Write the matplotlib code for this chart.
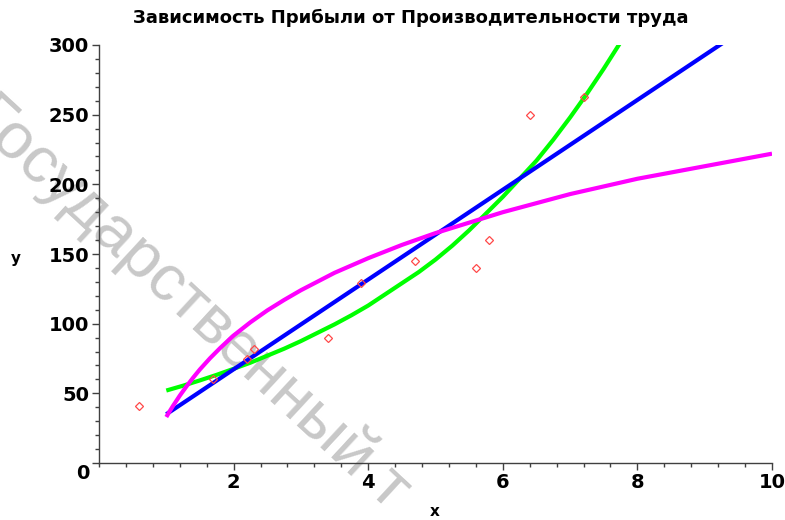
import matplotlib
matplotlib.use("Agg")
import matplotlib.pyplot as plt
from matplotlib.ticker import MultipleLocator
from matplotlib.transforms import offset_copy

# Data
pts_x = [0.6, 1.7, 2.2, 2.3, 3.4, 3.9, 4.7, 5.6, 5.8, 6.4, 7.2]
pts_y = [41, 60, 75, 82, 90, 129, 145, 140, 160, 250, 263]

lin_x = [1.0, 10.0]
lin_y = [35, 325]

exp_x = [1.0, 1.25, 1.5, 1.75, 2.0, 2.25, 2.5, 2.75, 3.0, 3.25, 3.5, 3.75, 4.0, 4.25,
         4.5, 4.75, 5.0, 5.25, 5.5, 5.75, 6.0, 6.25, 6.5, 6.75, 7.0, 7.25, 7.5, 7.75]
exp_y = [52, 55.5, 59.3, 63.3, 67.6, 72, 77, 82, 87.5, 93.5, 99.5, 106, 113, 121,
         129, 137, 146, 156, 167, 179, 191, 204, 217, 232, 248, 265, 283, 302]

log_x = [1.0, 1.05, 1.1, 1.2, 1.3, 1.4, 1.5, 1.65, 1.8, 2.0, 2.25, 2.5, 2.75, 3.0,
         3.5, 4.0, 4.5, 5.0, 6.0, 7.0, 8.0, 9.0, 10.0]
log_y = [33, 37.1, 41, 48.3, 55, 61.3, 67.2, 75.2, 82.5, 91.5, 101, 109.5, 117, 124,
         136.5, 147, 156.5, 165, 180, 193, 204, 213, 222]

x_ticks = [2, 4, 6, 8, 10]
y_ticks = [0, 50, 100, 150, 200, 250, 300]

title = "Зависимость Прибыли от Производительности труда"
watermark = "Государственный т"

fig = plt.figure(figsize=(7.85, 5.2), dpi=100)
fig.patch.set_facecolor("white")
ax = fig.add_axes([99 / 785, 57 / 520, 673 / 785, 418 / 520])
ax.set_facecolor("none")
ax.set_zorder(1)

fig.text(190 / 785, 1 - 302 / 520, watermark, rotation=-42.8, rotation_mode="anchor",
         ha="center", va="center", fontsize=47, color="#c8c8c8",
         family="Liberation Sans", zorder=0)

ax.plot(exp_x, exp_y, color="#00ff00", lw=3.0, zorder=3, solid_capstyle="butt")
ax.plot(lin_x, lin_y, color="#0000ff", lw=3.0, zorder=3, solid_capstyle="butt")
ax.plot(log_x, log_y, color="#ff00ff", lw=3.0, zorder=3, solid_capstyle="butt")
ax.plot(pts_x, pts_y, linestyle="none", marker="D", markersize=4,
        markerfacecolor="none", markeredgecolor="#ff4848", markeredgewidth=0.9, zorder=5)

ax.set_xlim(0, 10)
ax.set_ylim(0, 300)
ax.set_xticks(x_ticks)
ax.set_yticks(y_ticks)
ax.xaxis.set_minor_locator(MultipleLocator(0.4))
ax.yaxis.set_minor_locator(MultipleLocator(10))

for s in ["top", "right"]:
    ax.spines[s].set_visible(False)
for s in ["left", "bottom"]:
    ax.spines[s].set_color("#404040")
    ax.spines[s].set_linewidth(1.0)

ax.tick_params(axis="both", which="major", direction="out", length=5, width=1,
               color="#404040", labelsize=14, pad=2)
ax.tick_params(axis="both", which="minor", direction="out", length=3, width=1,
               color="#404040")
for lab in ax.get_xticklabels() + ax.get_yticklabels():
    lab.set_fontweight("bold")
    lab.set_family("DejaVu Sans")

# the origin label sits a little below the axis line
ylab0 = ax.get_yticklabels()[0]
ylab0.set_transform(offset_copy(ylab0.get_transform(), fig=fig, x=0, y=-6, units="points"))

fig.text(411 / 785, 1 - 18 / 520, title, ha="center", va="center",
         fontsize=13, fontweight="bold", family="DejaVu Sans")
fig.text(16 / 785, 1 - 258 / 520, "y", ha="center", va="center",
         fontsize=11, fontweight="bold", family="DejaVu Sans")
fig.text(435 / 785, 1 - 512 / 520, "x", ha="center", va="center",
         fontsize=11, fontweight="bold", family="DejaVu Sans")

fig.savefig("out.png", dpi=100)
